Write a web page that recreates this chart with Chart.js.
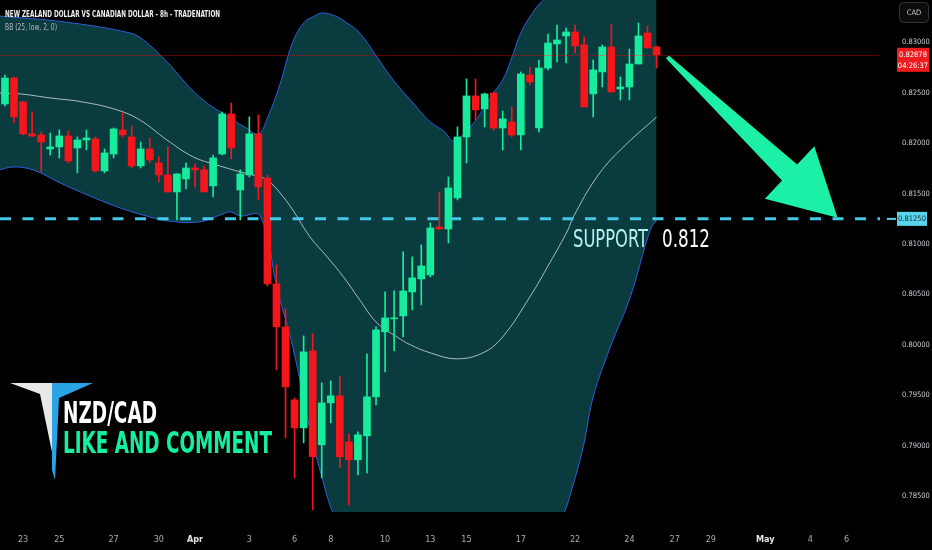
<!DOCTYPE html>
<html>
<head>
<meta charset="utf-8">
<title>NZD/CAD 8h</title>
<script src="https://cdn.jsdelivr.net/npm/chart.js@4.4.1/dist/chart.umd.min.js"></script>
<style>
  html, body { margin: 0; padding: 0; background: #000; }
  #wrap { width: 932px; height: 550px; }
</style>
</head>
<body>
<div id="wrap"><canvas id="chart" width="932" height="550"></canvas></div>
<script>
// NZD/CAD 8h candles (index 0 = first visible candle, Mar 23)
const opens = [
  0.82390, 0.82648, 0.82410, 0.82093, 0.82083, 0.81944, 0.81964, 0.82073, 0.81954, 0.82033,
  0.82043, 0.81726, 0.81894, 0.82132, 0.82063, 0.81775, 0.81944, 0.81805, 0.81686, 0.81517,
  0.81646, 0.81755, 0.81736, 0.81577, 0.81894, 0.82291, 0.81537, 0.81686, 0.82093, 0.81656,
  0.80605, 0.80178, 0.79454, 0.79176, 0.79940, 0.79008, 0.79424, 0.79494, 0.79037, 0.78859,
  0.79097, 0.79484, 0.80129, 0.80258, 0.80287, 0.80525, 0.80654, 0.80694, 0.81170, 0.81150,
  0.81458, 0.82063, 0.82470, 0.82341, 0.82499, 0.82152, 0.82212, 0.82083, 0.82678, 0.82152,
  0.82747, 0.82986, 0.83065, 0.83105, 0.82976, 0.82490, 0.82708, 0.82956, 0.82539, 0.82559,
  0.82787, 0.83095, 0.82956
];
const highs = [
  0.82678, 0.82658, 0.82420, 0.82311, 0.82113, 0.82103, 0.82132, 0.82123, 0.82063, 0.82132,
  0.82063, 0.81944, 0.82152, 0.82301, 0.82172, 0.82013, 0.82053, 0.81865, 0.81964, 0.81696,
  0.81805, 0.81795, 0.81775, 0.81884, 0.82311, 0.82400, 0.81736, 0.82261, 0.82281, 0.81686,
  0.80793, 0.80357, 0.79474, 0.80089, 0.80109, 0.79623, 0.79643, 0.79692, 0.79117, 0.79137,
  0.79910, 0.80178, 0.80525, 0.80535, 0.80922, 0.80873, 0.80992, 0.81210, 0.81517, 0.81666,
  0.82162, 0.82638, 0.82638, 0.82499, 0.82509, 0.82321, 0.82361, 0.82708, 0.82757, 0.82827,
  0.83085, 0.83174, 0.83144, 0.83174, 0.83055, 0.82827, 0.82976, 0.83184, 0.82658, 0.82936,
  0.83194, 0.83164, 0.82966
];
const lows = [
  0.82371, 0.82202, 0.82083, 0.82063, 0.81716, 0.81884, 0.81855, 0.81805, 0.81706, 0.81934,
  0.81716, 0.81706, 0.81855, 0.82063, 0.81755, 0.81755, 0.81805, 0.81617, 0.81517, 0.81240,
  0.81547, 0.81567, 0.81517, 0.81468, 0.81884, 0.81845, 0.81240, 0.81666, 0.81438, 0.80585,
  0.79752, 0.79077, 0.78680, 0.79027, 0.78363, 0.78680, 0.79226, 0.78779, 0.78412, 0.78710,
  0.78730, 0.79404, 0.79732, 0.79940, 0.80079, 0.80347, 0.80396, 0.80674, 0.81140, 0.81011,
  0.81438, 0.81805, 0.82232, 0.82162, 0.82132, 0.81934, 0.82063, 0.81934, 0.82579, 0.82113,
  0.82728, 0.82807, 0.82797, 0.82896, 0.82361, 0.82261, 0.82559, 0.82509, 0.82430, 0.82430,
  0.82787, 0.82946, 0.82747
];
const closes = [
  0.82648, 0.82261, 0.82093, 0.82073, 0.82013, 0.81964, 0.82073, 0.81825, 0.82033, 0.82053,
  0.81726, 0.81904, 0.82142, 0.82083, 0.81775, 0.81944, 0.81835, 0.81686, 0.81517, 0.81696,
  0.81755, 0.81736, 0.81517, 0.81855, 0.82291, 0.81954, 0.81696, 0.82093, 0.81567, 0.80605,
  0.80178, 0.79583, 0.79176, 0.79930, 0.78889, 0.79424, 0.79494, 0.78889, 0.78859, 0.79107,
  0.79484, 0.80148, 0.80267, 0.80267, 0.80535, 0.80664, 0.80783, 0.81160, 0.81150, 0.81557,
  0.82063, 0.82470, 0.82331, 0.82490, 0.82152, 0.82242, 0.82083, 0.82688, 0.82609, 0.82747,
  0.82995, 0.83025, 0.83105, 0.82966, 0.82361, 0.82728, 0.82956, 0.82509, 0.82559, 0.82787,
  0.83065, 0.82946, 0.82878
];

// Bollinger band (25, low, 2) as read: [candle index, price]
const bbUpper = [
  [-0.6, 0.83263], [6.6, 0.83204], [13.8, 0.83095], [15.3, 0.83025], [17.7, 0.82827],
  [21.5, 0.82460], [25.2, 0.82232], [26.5, 0.82162], [28.0, 0.82093], [29.0, 0.82251],
  [30.4, 0.82589], [31.8, 0.83005], [33.1, 0.83204], [34.0, 0.83253], [35.0, 0.83293],
  [36.5, 0.83263], [37.8, 0.83194], [39.2, 0.83095], [41.1, 0.82857], [42.9, 0.82628],
  [44.8, 0.82430], [47.0, 0.82212], [48.6, 0.82113], [49.5, 0.82023], [50.6, 0.82083],
  [51.7, 0.82192], [52.8, 0.82331], [53.9, 0.82490], [55.0, 0.82628], [56.0, 0.82847],
  [56.9, 0.83075], [58.0, 0.83253], [59.5, 0.83422], [61.3, 0.83501], [65.8, 0.83521],
  [72.0, 0.83472]
];
const bbMiddle = [
  [-0.6, 0.82499], [1.7, 0.82490], [5.0, 0.82450], [8.6, 0.82410], [12.4, 0.82331],
  [14.9, 0.82232], [17.9, 0.82033], [20.8, 0.81865], [23.4, 0.81785], [26.0, 0.81716],
  [28.2, 0.81666], [29.0, 0.81636], [30.4, 0.81507], [31.8, 0.81339], [33.7, 0.81071],
  [35.6, 0.80873], [37.4, 0.80674], [39.2, 0.80446], [41.1, 0.80218], [43.3, 0.80079],
  [44.8, 0.80000], [47.0, 0.79920], [49.9, 0.79861], [52.8, 0.79920], [55.0, 0.80079],
  [58.0, 0.80476], [60.2, 0.80813], [62.2, 0.81140], [62.8, 0.81269], [65.4, 0.81666],
  [68.0, 0.81934], [72.0, 0.82261]
];
const bbLower = [
  [-0.6, 0.81736], [0.9, 0.81765], [3.1, 0.81736], [6.1, 0.81607], [8.6, 0.81507],
  [12.4, 0.81369], [16.0, 0.81269], [17.9, 0.81230], [21.5, 0.81220], [23.8, 0.81289],
  [24.9, 0.81319], [26.0, 0.81279], [28.2, 0.81279], [30.1, 0.80545], [31.8, 0.79980],
  [33.7, 0.79156], [35.1, 0.78660], [36.1, 0.78363], [37.6, 0.78065], [43.7, 0.77668],
  [50.3, 0.77668], [56.9, 0.77867], [60.8, 0.78164], [61.7, 0.78313], [62.4, 0.78492],
  [63.9, 0.78988], [65.0, 0.79484], [66.9, 0.79980], [69.1, 0.80476], [71.3, 0.81140],
  [72.0, 0.81240]
];

// axis labels
const xTickIdx = [2, 6, 12, 17, 21, 27, 32, 36, 42, 47, 51, 57, 63, 69, 74, 78, 84, 89, 93];
const xTickText = ['23', '25', '27', '30', 'Apr', '3', '6', '8', '10', '13', '15', '17', '22', '24', '27', '29', 'May', '4', '6'];
const yTicks = [0.785, 0.790, 0.795, 0.800, 0.805, 0.810, 0.815, 0.820, 0.825, 0.830];

const supportLevel = 0.8125;
const lastPrice = 0.82878;
const countdown = '04:26:37';
const arrowFrom = [73.2, 0.82857];
const arrowTo = [92.0, 0.81260];

const GREEN = '#17eb9c';
const RED = '#f5161b';
const NARROW = '"Liberation Sans Narrow", "DejaVu Sans Condensed", sans-serif';
const COND = '"DejaVu Sans Condensed", "DejaVu Sans", sans-serif';

const idx = opens.map((_, i) => i);
const bodies = idx.map(i => ({ x: i, y: [opens[i], closes[i]] }));
const wicks = idx.map(i => ({ x: i, y: [lows[i], highs[i]] }));
const colors = idx.map(i => closes[i] >= opens[i] ? GREEN : RED);
const toXY = arr => arr.map(p => ({ x: p[0], y: p[1] }));

// draws text so it fills a given width (squeezes the font sideways)
function fitText(ctx, text, x, base, cap, width, color, weight) {
  const size = cap / 0.73;
  ctx.save();
  ctx.font = (weight || 'normal') + ' ' + size + 'px ' + COND;
  const w = ctx.measureText(text).width;
  ctx.translate(x, base);
  ctx.scale(width / w, 1);
  ctx.fillStyle = color;
  ctx.textAlign = 'left';
  ctx.textBaseline = 'alphabetic';
  ctx.fillText(text, 0, 0);
  ctx.restore();
}

const overlay = {
  id: 'overlay',
  beforeDraw(chart) {
    const c = chart.ctx;
    c.save();
    c.fillStyle = '#000';
    c.fillRect(0, 0, chart.width, chart.height);
    c.restore();
  },
  afterDraw(chart) {
    const c = chart.ctx;
    const xs = chart.scales.x, ys = chart.scales.y;
    const area = chart.chartArea;

    // last price line
    const yLast = ys.getPixelForValue(lastPrice);
    c.save();
    c.strokeStyle = 'rgba(200,30,30,0.55)';
    c.lineWidth = 1;
    c.setLineDash([1, 1]);
    c.beginPath();
    c.moveTo(area.left, Math.round(yLast) + 0.5);
    c.lineTo(area.right, Math.round(yLast) + 0.5);
    c.stroke();
    c.restore();

    // support line
    const ySup = ys.getPixelForValue(supportLevel);
    c.save();
    c.strokeStyle = '#45c8e6';
    c.lineWidth = 3;
    c.setLineDash([11, 11.5]);
    c.beginPath();
    c.moveTo(area.left, ySup);
    c.lineTo(area.right, ySup);
    c.stroke();
    c.restore();

    // arrow
    const tx = xs.getPixelForValue(arrowFrom[0]), ty = ys.getPixelForValue(arrowFrom[1]);
    const hx = xs.getPixelForValue(arrowTo[0]), hy = ys.getPixelForValue(arrowTo[1]);
    const len = Math.hypot(hx - tx, hy - ty);
    const ux = (hx - tx) / len, uy = (hy - ty) / len;
    const nx = -uy, ny = ux;
    const headLen = 66, headW = 36, w0 = 2, w1 = 11;
    const bx = hx - ux * headLen, by = hy - uy * headLen;
    c.save();
    c.fillStyle = '#1cf0a6';
    c.beginPath();
    c.moveTo(tx + nx * w0, ty + ny * w0);
    c.lineTo(bx + nx * w1, by + ny * w1);
    c.lineTo(bx + nx * headW, by + ny * headW);
    c.lineTo(hx, hy);
    c.lineTo(bx - nx * headW, by - ny * headW);
    c.lineTo(bx - nx * w1, by - ny * w1);
    c.lineTo(tx - nx * w0, ty - ny * w0);
    c.closePath();
    c.fill();
    c.restore();

    // text on the chart
    fitText(c, 'SUPPORT', 573, 247, 18, 75, '#b4f0f0');
    fitText(c, '0.812', 662, 247, 18, 48, '#ffffff');
    fitText(c, 'NEW ZEALAND DOLLAR VS CANADIAN DOLLAR - 8h - TRADENATION', 5, 16.5, 6.5, 215, '#f0f0f0', 'bold');
    fitText(c, 'BB (25, low, 2, 0)', 5, 29.5, 6, 52, '#b2b5be');

    // logo
    c.save();
    c.fillStyle = '#e6e8ea';
    c.beginPath();
    c.moveTo(10, 383); c.lineTo(52, 383); c.lineTo(52, 452); c.lineTo(40, 394);
    c.closePath(); c.fill();
    c.fillStyle = '#2aa4e6';
    c.beginPath();
    c.moveTo(52, 383); c.lineTo(93, 383); c.lineTo(59, 398); c.lineTo(55, 480); c.lineTo(52, 470);
    c.closePath(); c.fill();
    c.restore();
    fitText(c, 'NZD/CAD', 63, 423, 22, 94, '#ffffff', 'bold');
    fitText(c, 'LIKE AND COMMENT', 63, 453, 22, 209, '#14f0a2', 'bold');

    // price axis boxes
    c.save();
    c.textAlign = 'center';
    c.textBaseline = 'middle';
    c.font = '7.5px ' + NARROW;
    c.fillStyle = '#ef1a1f';
    c.fillRect(897, yLast - 7, 32, 24);
    c.fillStyle = '#ffffff';
    c.fillText(lastPrice.toFixed(5), 913, yLast);
    c.fillText(countdown, 913, yLast + 11);

    c.strokeStyle = '#5ad4ec';
    c.lineWidth = 2;
    c.beginPath();
    c.moveTo(887, ySup); c.lineTo(896, ySup);
    c.stroke();
    c.fillStyle = '#5ad4ec';
    c.fillRect(897, ySup - 7, 30, 14);
    c.fillStyle = '#0b2a30';
    c.fillText(supportLevel.toFixed(5), 912, ySup);

    c.fillStyle = '#0c0c0c';
    c.strokeStyle = '#30343c';
    c.lineWidth = 1;
    c.beginPath();
    c.roundRect(899.5, 2.5, 29, 20, 4);
    c.fill(); c.stroke();
    c.fillStyle = '#c8c8c8';
    c.fillText('CAD', 914, 13);
    c.restore();
  }
};

Chart.defaults.font.family = NARROW;

new Chart(document.getElementById('chart'), {
  type: 'bar',
  data: {
    datasets: [
      { type: 'bar', data: bodies, backgroundColor: colors, barThickness: 7, grouped: false, minBarLength: 1, order: 0 },
      { type: 'bar', data: wicks, backgroundColor: colors, barThickness: 1, grouped: false, order: 1 },
      { type: 'line', data: toXY(bbMiddle), borderColor: 'rgba(200,208,212,0.85)', borderWidth: 1,
        pointRadius: 0, tension: 0.4, fill: false, order: 2 },
      { type: 'line', data: toXY(bbUpper), borderColor: '#2d5fd8', borderWidth: 1,
        pointRadius: 0, tension: 0.4, fill: '+1', backgroundColor: '#093b3f', order: 4 },
      { type: 'line', data: toXY(bbLower), borderColor: '#2d5fd8', borderWidth: 1,
        pointRadius: 0, tension: 0.4, fill: false, order: 3 }
    ]
  },
  options: {
    responsive: false,
    animation: false,
    devicePixelRatio: 1,
    layout: { padding: 0 },
    plugins: { legend: { display: false }, tooltip: { enabled: false } },
    scales: {
      x: {
        type: 'linear',
        offset: false,
        min: -0.55,
        max: 96.69,
        grid: { display: false, drawTicks: false },
        border: { display: false },
        afterBuildTicks: s => { s.ticks = xTickIdx.map(v => ({ value: v })); },
        afterFit: s => { s.height = 38; s.paddingLeft = 0; s.paddingRight = 0; },
        ticks: {
          autoSkip: false,
          maxRotation: 0,
          padding: 22,
          callback: v => xTickText[xTickIdx.indexOf(v)],
          color: c => (c.tick && (c.tick.value === 21 || c.tick.value === 84)) ? '#e6e6e6' : '#a9acb4',
          font: c => ({ size: 9, weight: (c.tick && (c.tick.value === 21 || c.tick.value === 84)) ? 'bold' : 'normal' })
        }
      },
      y: {
        type: 'linear',
        position: 'right',
        min: 0.78341,
        max: 0.83422,
        grid: { display: false, drawTicks: false },
        border: { display: false },
        afterBuildTicks: s => { s.ticks = yTicks.map(v => ({ value: v })); },
        afterFit: s => { s.width = 52; s.paddingTop = 0; s.paddingBottom = 0; },
        ticks: {
          padding: 22,
          color: '#c9ccd3',
          font: { size: 7.5 },
          callback: v => Number(v).toFixed(5)
        }
      }
    }
  },
  plugins: [overlay]
});
</script>
</body>
</html>
